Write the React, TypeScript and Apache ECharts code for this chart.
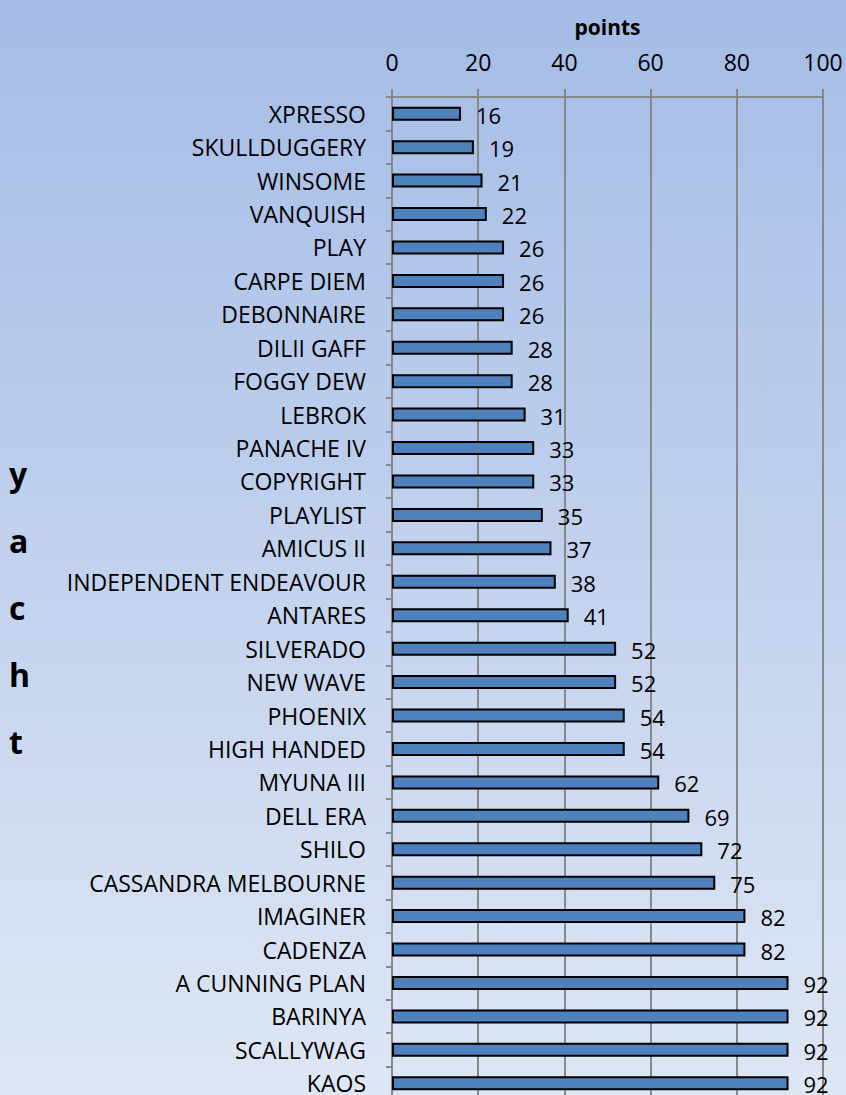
import React, { useEffect, useRef } from "react";
import * as echarts from "echarts";

const categories = [
  "XPRESSO", "SKULLDUGGERY", "WINSOME", "VANQUISH", "PLAY", "CARPE DIEM", "DEBONNAIRE",
  "DILII GAFF", "FOGGY DEW", "LEBROK", "PANACHE IV", "COPYRIGHT", "PLAYLIST", "AMICUS II",
  "INDEPENDENT ENDEAVOUR", "ANTARES", "SILVERADO", "NEW WAVE", "PHOENIX", "HIGH HANDED",
  "MYUNA III", "DELL ERA", "SHILO", "CASSANDRA MELBOURNE", "IMAGINER", "CADENZA",
  "A CUNNING PLAN", "BARINYA", "SCALLYWAG", "KAOS",
];
const points = [
  16, 19, 21, 22, 26, 26, 26, 28, 28, 31, 33, 33, 35, 37, 38, 41, 52, 52, 54, 54,
  62, 69, 72, 75, 82, 82, 92, 92, 92, 92,
];
const xTicks = { min: 0, max: 100, interval: 20 };

const FONT = "'Open Sans', sans-serif";

export default function App() {
  const ref = useRef<HTMLDivElement>(null);
  useEffect(() => {
    document.body.style.margin = "0";
    const chart = echarts.init(ref.current!, null, { renderer: "svg" });
    chart.setOption({
      animation: false,
      backgroundColor: new echarts.graphic.LinearGradient(0, 0, 0, 1, [
        { offset: 0, color: "#a4bce6" },
        { offset: 1, color: "#dfe7f5" },
      ]),
      grid: { left: 392, right: 23, top: 97, bottom: 10, containLabel: false },
      xAxis: {
        type: "value",
        position: "top",
        min: xTicks.min,
        max: xTicks.max,
        interval: xTicks.interval,
        name: "points",
        nameLocation: "middle",
        nameGap: 60,
        nameTextStyle: { fontFamily: FONT, fontSize: 21, fontWeight: "bold", color: "#000" },
        axisLine: { show: true, lineStyle: { color: "#888", width: 2 } },
        axisTick: { show: true, length: 8, lineStyle: { color: "#888", width: 2 } },
        axisLabel: { margin: 24, fontFamily: FONT, fontSize: 23, color: "#000" },
        splitLine: { show: true, lineStyle: { color: "#888", width: 2 } },
      },
      yAxis: {
        type: "category",
        inverse: true,
        data: categories,
        axisLine: { show: true, lineStyle: { color: "#888", width: 2 } },
        axisTick: { show: true, length: 6, lineStyle: { color: "#888", width: 2 } },
        axisLabel: { margin: 26, fontFamily: FONT, fontSize: 23, color: "#000" },
      },
      series: [
        {
          type: "bar",
          data: points,
          barWidth: 14,
          itemStyle: { color: "#4f81bd", borderColor: "#000", borderWidth: 2 },
          label: {
            show: true,
            position: "right",
            distance: 15,
            offset: [0, 1],
            fontFamily: FONT,
            fontSize: 22,
            color: "#000",
          },
        },
      ],
      graphic: [
        {
          type: "text",
          left: 9,
          top: 440,
          style: {
            text: "y\na\nc\nh\nt",
            fontFamily: FONT,
            fontSize: 32,
            fontWeight: "bold",
            lineHeight: 67,
            fill: "#000",
            align: "center",
          },
        },
      ],
    });
    return () => chart.dispose();
  }, []);
  return (
    <div
      ref={ref}
      style={{ position: "absolute", left: 0, top: 0, width: 846, height: 1110 }}
    />
  );
}
